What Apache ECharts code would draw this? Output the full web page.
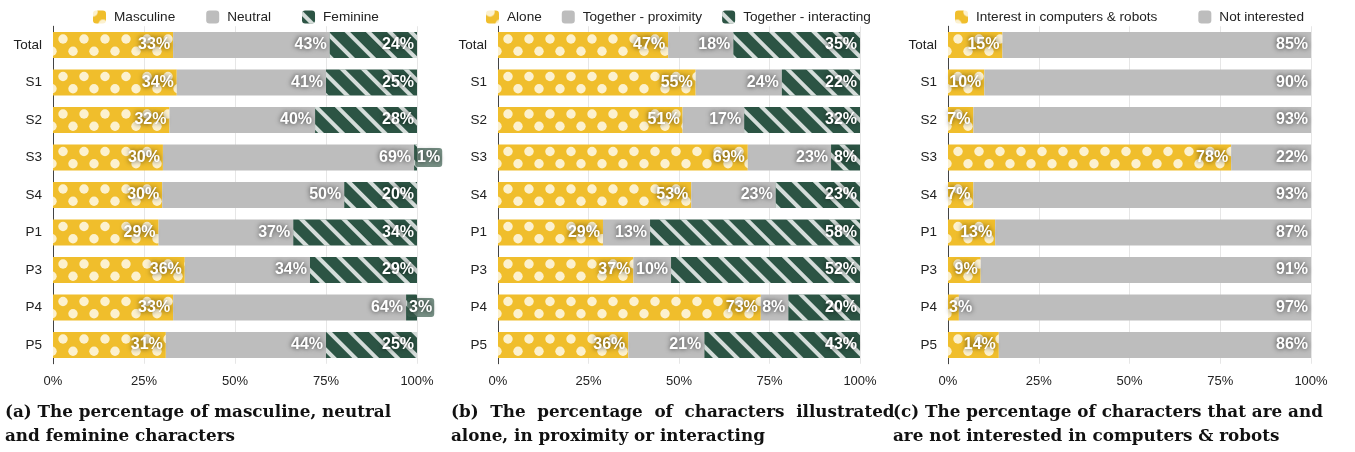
<!DOCTYPE html>
<html>
<head>
<meta charset="utf-8">
<script src="https://cdn.jsdelivr.net/npm/echarts@6/dist/echarts.min.js"></script>
<style>
  html, body { margin: 0; padding: 0; background: #fff; }
  #main { width: 1355px; height: 452px; }
</style>
</head>
<body>
<div id="main"></div>
<script>
// rows shared by the three panels
var categories = ['Total', 'S1', 'S2', 'S3', 'S4', 'P1', 'P3', 'P4', 'P5'];
var ticks = [0, 25, 50, 75, 100];

// (a) gender
var masculine = [33, 34, 32, 30.2, 30, 29, 36.2, 33, 31];
var neutral   = [43, 41, 40, 69, 50, 37, 34.4, 64, 44];
var feminine  = [24, 25, 28, 0.8, 20, 34, 29.4, 3, 25];

// (b) alone / together
var alone       = [47, 54.6, 51, 69, 53.4, 29, 37.4, 72.6, 36];
var proximity   = [18, 23.8, 17, 23, 23.3, 13, 10.4, 7.6, 21];
var interacting = [35, 21.6, 32, 8, 23.3, 58, 52.2, 19.8, 43];

// (c) interest in computers & robots
var interested    = [15, 10, 7, 78, 7, 13, 9, 3, 14];
var notInterested = [85, 90, 93, 22, 93, 87, 91, 97, 86];

var legendNames = [
    ['Masculine', 'Neutral', 'Feminine'],
    ['Alone', 'Together - proximity', 'Together - interacting'],
    ['Interest in computers & robots', 'Not interested']
];

var captions = [
    '(a) The percentage of masculine, neutral\nand feminine characters',
    '(b)  The  percentage  of  characters  illustrated\nalone, in proximity or interacting',
    '(c) The percentage of characters that are and\nare not interested in computers & robots'
];

var YELLOW = '#f0be2c', GREY = '#bdbdbd', GREEN = '#2c5444', CREAM = '#fcf1cf';
var SANS = 'Liberation Sans, Arial, Helvetica, sans-serif';

var GRID_TOP = 26.25, BAND = 37.5, BAR_W = 26;
var grids = [
    {left: 53, top: GRID_TOP, width: 364, height: BAND * 9},
    {left: 498, top: GRID_TOP, width: 362, height: BAND * 9},
    {left: 948, top: GRID_TOP, width: 363, height: BAND * 9}
];

// polka dots, tiled over two bands so every bar gets the same two rows
function dotPattern(x0) {
    var w = 21, h = BAND * 2;
    var c = document.createElement('canvas');
    c.width = w; c.height = h;
    var ctx = c.getContext('2d');
    ctx.fillStyle = YELLOW;
    ctx.fillRect(0, 0, w, h);
    ctx.fillStyle = CREAM;
    var barTop = GRID_TOP + (BAND - BAR_W) / 2;
    [barTop, barTop + BAND].forEach(function (t) {
        [[7, 10], [19.3, 20]].forEach(function (d) {
            var cx = ((x0 + d[1]) % w + w) % w, cy = (t + d[0]) % h;
            for (var i = -1; i <= 1; i++) {
                for (var j = -1; j <= 1; j++) {
                    ctx.beginPath();
                    ctx.arc(cx + i * w, cy + j * h, 4.7, 0, Math.PI * 2);
                    ctx.fill();
                }
            }
        });
    });
    return {image: c, repeat: 'repeat'};
}

var stripes = {
    symbol: 'rect', symbolSize: 1, color: 'rgba(255,255,255,0.8)',
    dashArrayX: [1, 0], dashArrayY: [3.6, 10.9], rotation: Math.PI / 4
};

function barData(values, isLast, boxed) {
    return values.map(function (v) {
        if (v >= 5) return v;
        var lbl = {position: 'insideLeft', distance: 1};
        if (isLast && boxed) {
            lbl.backgroundColor = 'rgba(60,95,80,0.7)';
            lbl.borderRadius = 3;
            lbl.padding = [2, 2, 1, 2];
        }
        return {value: v, label: lbl};
    });
}

function makeSeries(gi, name, values, color, decal, isLast, boxed) {
    return {
        name: name, type: 'bar', stack: 'g' + gi,
        xAxisIndex: gi, yAxisIndex: gi,
        barWidth: BAR_W,
        itemStyle: {color: color, decal: decal},
        label: {
            show: true, position: 'insideRight', distance: 3,
            color: '#fff', fontFamily: SANS, fontWeight: 'bold', fontSize: 16,
            textShadowColor: 'rgba(0,0,0,0.75)', textShadowBlur: 5,
            formatter: function (p) { return Math.round(p.value) + '%'; }
        },
        data: barData(values, isLast, boxed)
    };
}

var chart = echarts.init(document.getElementById('main'));

var option = {
    animation: false,
    grid: grids,
    legend: legendNames.map(function (names, i) {
        return {
            data: names, left: [93, 486, 955][i], top: 10, padding: 0,
            itemWidth: 13, itemHeight: 13, itemGap: [31, 20, 41][i],
            icon: 'roundRect',
            textStyle: {fontFamily: SANS, fontSize: 13.6, color: '#222', padding: [0, 0, 0, 3]}
        };
    }),
    title: captions.map(function (c, i) {
        return {
            text: c, left: [5, 451, 893][i], top: 401, padding: 0,
            textStyle: {fontFamily: 'DejaVu Serif, serif', fontWeight: 'bold', fontSize: 16.8, lineHeight: 24, color: '#111'}
        };
    }),
    xAxis: grids.map(function (g, i) {
        return {
            type: 'value', gridIndex: i, min: ticks[0], max: ticks[ticks.length - 1], interval: 25,
            axisLine: {show: false}, axisTick: {show: false},
            axisLabel: {formatter: '{value}%', fontFamily: SANS, fontSize: 13, color: '#222', margin: 11},
            splitLine: {lineStyle: {color: '#e6e6e6'}}
        };
    }),
    yAxis: grids.map(function (g, i) {
        return {
            type: 'category', gridIndex: i, data: categories, inverse: true,
            axisLine: {lineStyle: {color: '#444'}}, axisTick: {show: false},
            axisLabel: {fontFamily: SANS, fontSize: 13.5, color: '#222', margin: 11}
        };
    }),
    series: [
        makeSeries(0, 'Masculine', masculine, dotPattern(53), null, false, true),
        makeSeries(0, 'Neutral', neutral, GREY, null, false, true),
        makeSeries(0, 'Feminine', feminine, GREEN, stripes, true, true),
        makeSeries(1, 'Alone', alone, dotPattern(498), null, false, false),
        makeSeries(1, 'Together - proximity', proximity, GREY, null, false, false),
        makeSeries(1, 'Together - interacting', interacting, GREEN, stripes, true, false),
        makeSeries(2, 'Interest in computers & robots', interested, dotPattern(948), null, false, false),
        makeSeries(2, 'Not interested', notInterested, GREY, null, true, false)
    ]
};

chart.setOption(option);
</script>
</body>
</html>
